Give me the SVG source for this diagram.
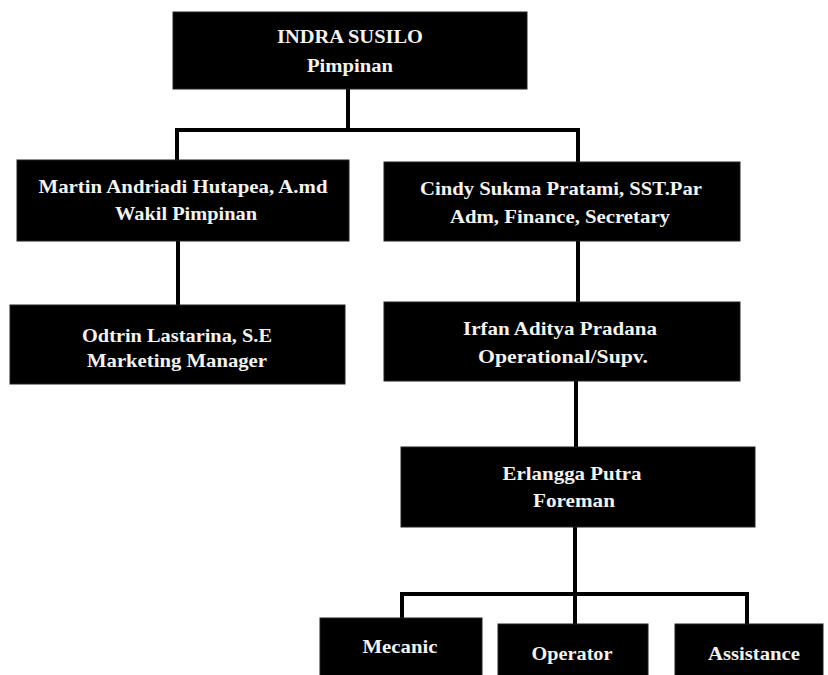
<svg xmlns="http://www.w3.org/2000/svg" width="828" height="675" viewBox="0 0 828 675">
<style>
.box{fill:#000;stroke:#222;stroke-width:1}
.t{font-family:"Liberation Serif","Times New Roman",serif;font-weight:bold;font-size:19px;fill:#f2f2f2;text-anchor:middle}
.c{fill:none;stroke:#000;stroke-width:4;stroke-linejoin:miter;stroke-linecap:square}
</style>
<rect width="828" height="675" fill="#fff"/>
<g id="connectors">
<path class="c" d="M348,90 V129"/>
<path class="c" d="M177,160 V130 H578 V161"/>
<path class="c" d="M178,242 V304"/>
<path class="c" d="M578,242 V301"/>
<path class="c" d="M576,382 V446"/>
<path class="c" d="M575,528 V594"/>
<path class="c" d="M402,617 V594 H747 V623"/>
<path class="c" d="M575,594 V623"/>
</g>
<g id="n-indra">
<rect class="box" x="173" y="12" width="354" height="77"/>
<text class="t" x="350" y="43" textLength="146" lengthAdjust="spacingAndGlyphs">INDRA SUSILO</text>
<text class="t" x="350" y="72" textLength="86" lengthAdjust="spacingAndGlyphs">Pimpinan</text>
</g>
<g id="n-martin">
<rect class="box" x="17" y="160" width="332" height="81"/>
<text class="t" x="183" y="193" textLength="289" lengthAdjust="spacingAndGlyphs">Martin Andriadi Hutapea, A.md</text>
<text class="t" x="186" y="220" textLength="142" lengthAdjust="spacingAndGlyphs">Wakil Pimpinan</text>
</g>
<g id="n-cindy">
<rect class="box" x="384" y="162" width="356" height="79"/>
<text class="t" x="561" y="195" textLength="282" lengthAdjust="spacingAndGlyphs">Cindy Sukma Pratami, SST.Par</text>
<text class="t" x="560" y="223" textLength="220" lengthAdjust="spacingAndGlyphs">Adm, Finance, Secretary</text>
</g>
<g id="n-odtrin">
<rect class="box" x="10" y="305" width="335" height="79"/>
<text class="t" x="177" y="342" textLength="190" lengthAdjust="spacingAndGlyphs">Odtrin Lastarina, S.E</text>
<text class="t" x="177" y="367" textLength="180" lengthAdjust="spacingAndGlyphs">Marketing Manager</text>
</g>
<g id="n-irfan">
<rect class="box" x="384" y="302" width="356" height="79"/>
<text class="t" x="560" y="335" textLength="194" lengthAdjust="spacingAndGlyphs">Irfan Aditya Pradana</text>
<text class="t" x="563" y="363" textLength="170" lengthAdjust="spacingAndGlyphs">Operational/Supv.</text>
</g>
<g id="n-erlangga">
<rect class="box" x="401" y="447" width="354" height="80"/>
<text class="t" x="572" y="480" textLength="139" lengthAdjust="spacingAndGlyphs">Erlangga Putra</text>
<text class="t" x="574" y="507" textLength="82" lengthAdjust="spacingAndGlyphs">Foreman</text>
</g>
<g id="n-mecanic">
<rect class="box" x="320" y="618" width="162" height="70"/>
<text class="t" x="400" y="653" textLength="75" lengthAdjust="spacingAndGlyphs">Mecanic</text>
</g>
<g id="n-operator">
<rect class="box" x="498" y="624" width="150" height="64"/>
<text class="t" x="572" y="660" textLength="81" lengthAdjust="spacingAndGlyphs">Operator</text>
</g>
<g id="n-assistance">
<rect class="box" x="675" y="624" width="148" height="64"/>
<text class="t" x="754" y="660" textLength="92" lengthAdjust="spacingAndGlyphs">Assistance</text>
</g>
</svg>
